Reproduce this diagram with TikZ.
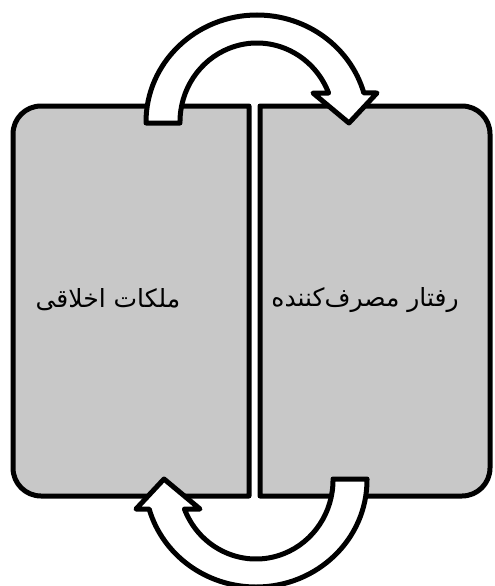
\documentclass[tikz,border=0pt]{standalone}
\usepackage{fontspec}
\TeXXeTstate=1
\newfontfamily\arabicfont[Script=Arabic]{DejaVu Sans}
\definecolor{boxgray}{RGB}{200,200,200}
\tikzset{
  panel/.style={draw=black, line width=5pt, fill=boxgray, line join=round},
  bentarrow/.style={draw=black, line width=5pt, fill=white, line join=round},
  label/.style={font=\fontsize{25}{30}\selectfont\arabicfont, inner sep=0pt}
}
\begin{document}
\begin{tikzpicture}[x=1pt,y=-1pt]
\useasboundingbox (0,0) rectangle (495,586);
% boxes
\draw[panel] (249,496) -- (249,106) -- (41,106) arc[start angle=270, end angle=180, radius=28]
  -- (13,468) arc[start angle=180, end angle=90, radius=28] -- cycle;
\draw[panel] (260,106) -- (462,106) arc[start angle=270, end angle=360, radius=28]
  -- (490,468) arc[start angle=0, end angle=90, radius=28] -- (260,496) -- cycle;
\node[label] (left) at (108,300) {\beginR ملکات اخلاقی\endR};
\node[label] (right) at (365,300) {\beginR رفتار مصرف‌کننده\endR};
% top arrow
\draw[bentarrow] (146,123) -- (146,122) arc[start angle=180, end angle=344.27, x radius=111, y radius=107]
  -- (377,93) -- (349,123) -- (313,93) -- (328.6,93)
  arc[start angle=338.46, end angle=180, x radius=77, y radius=79] -- (180,123) -- cycle;
% bottom arrow
\begin{scope}[rotate around={180:(256.5,301)}]
\draw[bentarrow] (146,123) -- (146,122) arc[start angle=180, end angle=344.27, x radius=111, y radius=107]
  -- (377,93) -- (349,123) -- (313,93) -- (328.6,93)
  arc[start angle=338.46, end angle=180, x radius=77, y radius=79] -- (180,123) -- cycle;
\end{scope}
\end{tikzpicture}
\end{document}
